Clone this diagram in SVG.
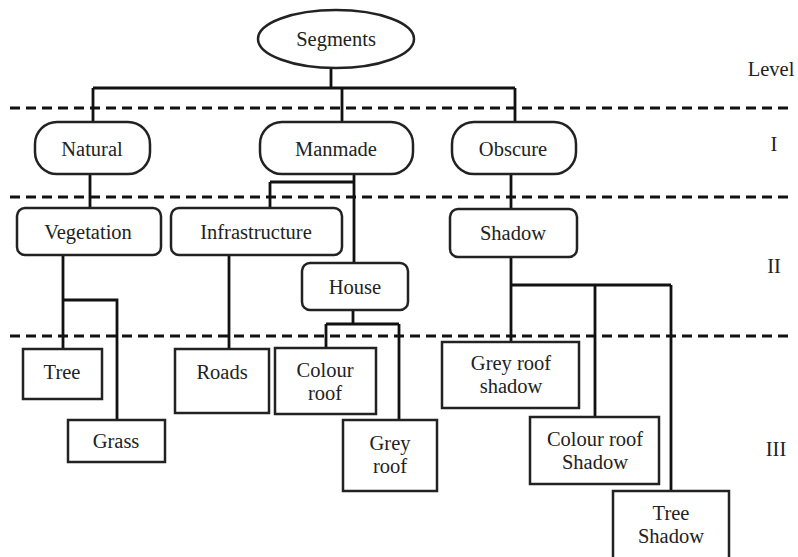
<svg xmlns="http://www.w3.org/2000/svg" width="798" height="557" viewBox="0 0 798 557">
<style>
text{font-family:'Liberation Serif','Times New Roman',serif;font-size:20.5px;fill:#222;text-anchor:middle}
.n{fill:#fff;stroke:#222;stroke-width:2.5}
.c{fill:none;stroke:#111;stroke-width:2.8}
.d{fill:none;stroke:#111;stroke-width:3;stroke-dasharray:10 6}
</style>
<rect width="798" height="557" fill="#fff"/>
<g id="levels">
<line class="d" x1="10" y1="108" x2="790" y2="108"/>
<line class="d" x1="10" y1="197" x2="790" y2="197"/>
<line class="d" x1="10" y1="336" x2="790" y2="336"/>
<text x="771" y="76">Level</text>
<text x="774" y="151">I</text>
<text x="774" y="273">II</text>
<text x="776" y="456">III</text>
</g>
<g id="connectors">
<path class="c" d="M331 68V88M93 88H515M93 88V122M342 88V122M515 88V122"/>
<path class="c" d="M90 174V208"/>
<path class="c" d="M354 174V263M270 182H354M270 182V208"/>
<path class="c" d="M511 174V209"/>
<path class="c" d="M63 255V349M63 300H117V420"/>
<path class="c" d="M229 255V349"/>
<path class="c" d="M353 310V324M326 324H399M326 324V348M399 324V420"/>
<path class="c" d="M511 257V342M511 285H671M595 285V417M671 285V491"/>
</g>
<g id="segments"><ellipse class="n" cx="336" cy="39" rx="78" ry="29"/><text x="336" y="46">Segments</text></g>
<g id="natural"><rect class="n" x="35" y="122" width="115" height="52" rx="22"/><text x="92" y="156">Natural</text></g>
<g id="manmade"><rect class="n" x="260" y="122" width="153" height="52" rx="22"/><text x="336" y="156">Manmade</text></g>
<g id="obscure"><rect class="n" x="452" y="122" width="124" height="52" rx="22"/><text x="513" y="156">Obscure</text></g>
<g id="vegetation"><rect class="n" x="17" y="208" width="144" height="47" rx="8"/><text x="88" y="239">Vegetation</text></g>
<g id="infrastructure"><rect class="n" x="171" y="208" width="171" height="47" rx="8"/><text x="256" y="239">Infrastructure</text></g>
<g id="shadow"><rect class="n" x="450" y="209" width="127" height="48" rx="8"/><text x="513" y="240">Shadow</text></g>
<g id="house"><rect class="n" x="302" y="263" width="106" height="47" rx="8"/><text x="355" y="294">House</text></g>
<g id="tree"><rect class="n" x="23" y="349" width="79" height="50"/><text x="62" y="379">Tree</text></g>
<g id="grass"><rect class="n" x="68" y="420" width="97" height="42"/><text x="116" y="448">Grass</text></g>
<g id="roads"><rect class="n" x="175" y="349" width="94" height="64"/><text x="222" y="379">Roads</text></g>
<g id="colour-roof"><rect class="n" x="275" y="348" width="101" height="66"/><text x="325" y="377">Colour</text><text x="325" y="400">roof</text></g>
<g id="grey-roof"><rect class="n" x="343" y="420" width="94" height="71"/><text x="390" y="450">Grey</text><text x="390" y="473">roof</text></g>
<g id="grey-roof-shadow"><rect class="n" x="442" y="342" width="137" height="66"/><text x="511" y="370">Grey roof</text><text x="511" y="393">shadow</text></g>
<g id="colour-roof-shadow"><rect class="n" x="530" y="417" width="129" height="67"/><text x="595" y="446">Colour roof</text><text x="595" y="469">Shadow</text></g>
<g id="tree-shadow"><rect class="n" x="613" y="491" width="116" height="70"/><text x="671" y="520">Tree</text><text x="671" y="543">Shadow</text></g>
</svg>
